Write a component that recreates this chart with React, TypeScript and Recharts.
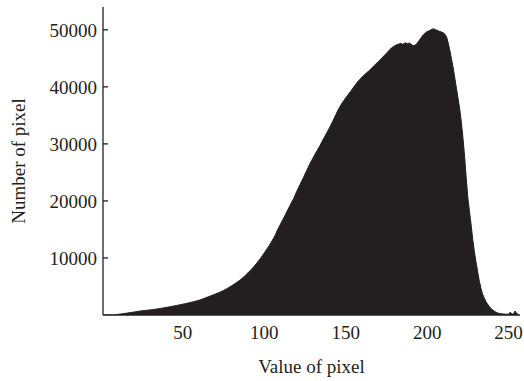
import { AreaChart, Area, XAxis, YAxis } from 'recharts';

// pixel values 1..256 and count of pixels in each bin
const pixelValues: number[] = Array.from({ length: 256 }, (_, i) => i + 1);

const pixelCounts: number[] = [
  0, 0, 0, 0, 0, 0, 0, 0, 50, 100,
  140, 180, 220, 260, 300, 340, 390, 430, 470, 520,
  570, 620, 670, 710, 740, 770, 800, 830, 860, 900,
  930, 970, 1010, 1050, 1100, 1140, 1190, 1240, 1290, 1340,
  1390, 1440, 1500, 1550, 1610, 1660, 1720, 1780, 1840, 1900,
  1960, 2020, 2090, 2150, 2220, 2290, 2360, 2440, 2520, 2600,
  2700, 2800, 2910, 3010, 3120, 3230, 3340, 3450, 3570, 3680,
  3800, 3920, 4040, 4170, 4300, 4460, 4620, 4790, 4960, 5140,
  5320, 5510, 5700, 5900, 6100, 6340, 6590, 6850, 7120, 7400,
  7690, 7990, 8300, 8620, 8950, 9300, 9680, 10070, 10470, 10880,
  11300, 11720, 12150, 12620, 13100, 13620, 14150, 14850, 15400, 15950,
  16500, 17050, 17620, 18180, 18750, 19300, 19850, 20400, 21050, 21700,
  22300, 22900, 23500, 24050, 24700, 25300, 25900, 26500, 27050, 27550,
  28100, 28600, 29100, 29600, 30150, 30700, 31200, 31750, 32250, 32800,
  33350, 33950, 34550, 35150, 35750, 36300, 36800, 37250, 37650, 38050,
  38450, 38850, 39200, 39600, 40000, 40400, 40750, 41100, 41400, 41700,
  42000, 42250, 42500, 42750, 43000, 43300, 43600, 43850, 44150, 44450,
  44700, 45000, 45300, 45600, 45900, 46200, 46500, 46800, 47000, 47200,
  47350, 47450, 47550, 47600, 47450, 47650, 47700, 47550, 47700, 47500,
  47300, 47200, 47400, 47700, 48100, 48500, 48900, 49200, 49500, 49700,
  49800, 49950, 50100, 50200, 50000, 49950, 49800, 49700, 49600, 49450,
  49200, 48700, 47600, 46300, 44800, 43300, 41500, 39700, 37900, 36100,
  33800, 31000, 27800, 24000, 20500, 18100, 15800, 13200, 11100, 9300,
  7600, 6000, 4700, 3700, 3000, 2400, 1950, 1550, 1200, 950,
  720, 540, 400, 300, 240, 200, 170, 150, 140, 150,
  500, 160, 170, 700, 200, 150,
];

const xTicks = [50, 100, 150, 200, 250];
const yTicks = [10000, 20000, 30000, 40000, 50000];

const data = pixelValues.map((v, i) => ({ v, n: pixelCounts[i] }));

const INK = '#231f20';
const FONT = '"Liberation Serif", "Times New Roman", serif';

export default function App() {
  return (
    <div style={{ position: 'absolute', left: 0, top: 0, background: '#fff' }}>
      <AreaChart
        width={524}
        height={381}
        data={data}
        margin={{ top: 7, right: 4, left: 0, bottom: 6 }}
      >
        <XAxis
          dataKey="v"
          type="number"
          domain={[1, 257]}
          ticks={xTicks}
          allowDataOverflow
          height={60}
          tickSize={0}
          tickMargin={11}
          tickLine={false}
          axisLine={{ stroke: INK, strokeWidth: 1.3 }}
          tick={{ fill: INK, fontSize: 19, fontFamily: FONT }}
          label={{
            value: 'Value of pixel',
            position: 'insideBottom',
            offset: 2,
            fill: INK,
            fontSize: 19,
            fontFamily: FONT,
          }}
        />
        <YAxis
          type="number"
          domain={[0, 54000]}
          ticks={yTicks}
          allowDataOverflow
          width={103}
          tickSize={-5}
          tickMargin={11}
          tickLine={{ stroke: INK, strokeWidth: 1.3 }}
          axisLine={{ stroke: INK, strokeWidth: 1.3 }}
          tick={{ fill: INK, fontSize: 19, fontFamily: FONT }}
          label={{
            value: 'Number of pixel',
            angle: -90,
            position: 'insideLeft',
            offset: 18,
            fill: INK,
            fontSize: 19,
            fontFamily: FONT,
            style: { textAnchor: 'middle' },
          }}
        />
        <Area
          dataKey="n"
          type="linear"
          stroke={INK}
          strokeWidth={1}
          fill={INK}
          fillOpacity={1}
          isAnimationActive={false}
          dot={false}
          activeDot={false}
        />
      </AreaChart>
    </div>
  );
}
